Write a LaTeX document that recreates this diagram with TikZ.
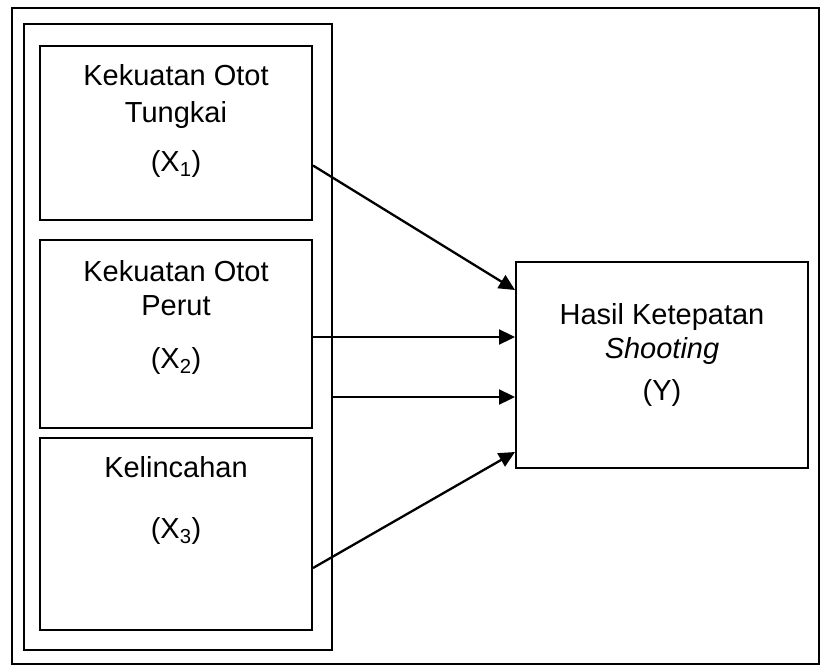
\documentclass[tikz,border=0pt]{standalone}
\usepackage{fontspec}
\setmainfont{Liberation Sans}
\usetikzlibrary{arrows.meta,fit}
\begin{document}
\begin{tikzpicture}[x=1pt,y=-1pt,
  box/.style={draw,line width=2pt,inner sep=0pt},
  lbl/.style={anchor=base,inner sep=0pt,font=\fontsize{29}{34}\selectfont},
  arr/.style={line width=2.3pt,-{Triangle[length=16pt,width=15pt]}}]
\useasboundingbox (0,0) rectangle (821,666);
% frames
\node[box,fit={(12,8)(819,664)}] (frame) {};
\node[box,fit={(23.5,24)(332,650)}] (grp) {};
% independent variables
\node[box,fit={(40,46)(312,220)}] (b1) {};
\node[box,fit={(40,240)(312,428)}] (b2) {};
\node[box,fit={(40,438)(312,630)}] (b3) {};
% dependent variable
\node[box,fit={(516,262)(808,468)}] (yb) {};
% labels
\node[lbl] (t1a) at (176,86) {Kekuatan Otot};
\node[lbl] (t1b) at (176,122) {Tungkai};
\node[lbl] (t1c) at (176,171) {(X\textsubscript{1})};
\node[lbl] (t2a) at (176,281) {Kekuatan Otot};
\node[lbl] (t2b) at (176,315) {Perut};
\node[lbl] (t2c) at (176,368) {(X\textsubscript{2})};
\node[lbl] (t3a) at (176,477) {Kelincahan};
\node[lbl] (t3b) at (176,538) {(X\textsubscript{3})};
\node[lbl] (tya) at (662,324) {Hasil Ketepatan};
\node[lbl] (tyb) at (662,358) {\itshape Shooting};
\node[lbl] (tyc) at (662,400) {(Y)};
% arrows
\draw[arr] ([yshift=-32.5pt]b1.east) -- ([yshift=75pt]yb.west);
\draw[arr] ([yshift=-3pt]b2.east) -- ([yshift=28pt]yb.west);
\draw[arr] ([yshift=-60pt]grp.east) -- ([yshift=-32pt]yb.west);
\draw[arr] ([yshift=-34pt]b3.east) -- ([yshift=-87pt]yb.west);
\end{tikzpicture}
\end{document}
